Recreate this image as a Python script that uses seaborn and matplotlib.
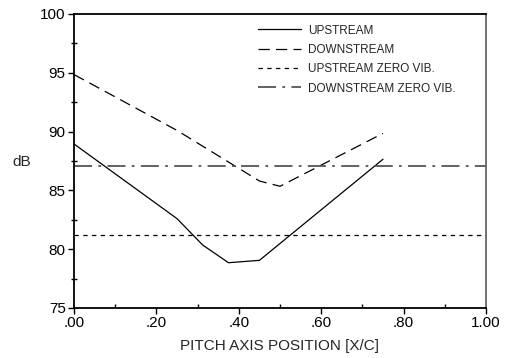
import matplotlib
matplotlib.use("Agg")
import matplotlib.pyplot as plt
import seaborn as sns
import pandas as pd
from matplotlib.ticker import MultipleLocator, FuncFormatter

up_x = [0.0, 0.25, 0.3125, 0.375, 0.45, 0.75]
up_y = [88.95, 82.6, 80.35, 78.85, 79.05, 87.65]
down_x = [0.0, 0.25, 0.45, 0.5, 0.75]
down_y = [94.85, 90.1, 85.8, 85.35, 89.85]
up_zero = 81.2
down_zero = 87.1
labels = ["UPSTREAM", "DOWNSTREAM", "UPSTREAM ZERO VIB.", "DOWNSTREAM ZERO VIB."]
xticks = [0.0, 0.2, 0.4, 0.6, 0.8, 1.0]
yticks = [75, 80, 85, 90, 95, 100]

sns.set_style("white")
plt.rcParams['font.family'] = ['Liberation Sans', 'DejaVu Sans']

fig = plt.figure(figsize=(5.05, 3.58), dpi=100)
ax = fig.add_axes([0.1465, 0.1397, 0.8159, 0.8212])

df_up = pd.DataFrame({"x": up_x, "y": up_y})
df_down = pd.DataFrame({"x": down_x, "y": down_y})
df_uz = pd.DataFrame({"x": [0.0, 1.0], "y": [up_zero, up_zero]})
df_dz = pd.DataFrame({"x": [0.0, 1.0], "y": [down_zero, down_zero]})

sns.lineplot(data=df_up, x="x", y="y", ax=ax, color="black", lw=0.9,
             label=labels[0], sort=False)
sns.lineplot(data=df_down, x="x", y="y", ax=ax, color="black", lw=0.9,
             label=labels[1], sort=False)
sns.lineplot(data=df_uz, x="x", y="y", ax=ax, color="black", lw=0.9,
             label=labels[2])
sns.lineplot(data=df_dz, x="x", y="y", ax=ax, color="#555555", lw=1.3,
             label=labels[3])
lines = ax.get_lines()
lines[1].set_dashes([9, 5])
lines[2].set_dashes([3.5, 3.5])
lines[3].set_dashes([10, 3.5, 1.5, 3.5])

ax.set_xlim(0, 1.0)
ax.set_ylim(75, 100)
ax.set_xticks(xticks)
ax.set_yticks(yticks)
ax.xaxis.set_minor_locator(MultipleLocator(0.1))
ax.yaxis.set_minor_locator(MultipleLocator(2.5))
ax.xaxis.set_major_formatter(FuncFormatter(lambda v, p: "1.00" if v >= 0.999 else ("%.2f" % v)[1:]))
ax.tick_params(axis="both", which="major", direction="out", length=4, width=1,
               color="black", labelsize=11, pad=2, labelcolor="black")
ax.tick_params(axis="y", which="minor", direction="inout", length=4, width=1,
               color="black")
ax.tick_params(axis="x", which="minor", direction="in", length=3, width=1,
               color="black")
ax.tick_params(axis="x", which="both", bottom=True, top=False)
ax.tick_params(axis="y", which="both", left=True, right=False)

for s in ["left", "bottom", "top"]:
    ax.spines[s].set_color("black")
    ax.spines[s].set_linewidth(1.3)
ax.spines["right"].set_color("#666666")
ax.spines["right"].set_linewidth(1.3)

ax.set_xlabel("PITCH AXIS POSITION [X/C]", fontsize=11, labelpad=6)
ax.set_ylabel("dB", fontsize=11, rotation=0, labelpad=0)
ax.yaxis.set_label_coords(-0.126, 0.497, transform=ax.transAxes)
ax.yaxis.label.set_va("center")

leg = ax.legend(loc="upper left", bbox_to_anchor=(0.42, 1.0), frameon=False,
                fontsize=8.5, handlelength=3.7, labelspacing=0.62, handletextpad=0.6)
fig.savefig("out.png", dpi=100)
